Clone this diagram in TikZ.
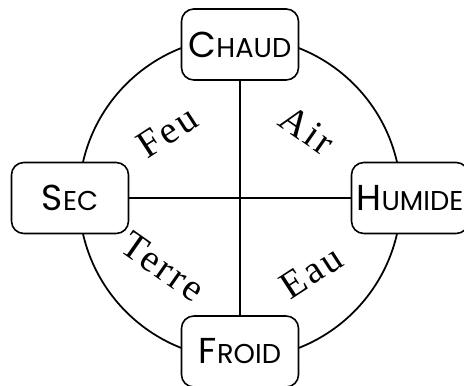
\documentclass[tikz,border=0pt]{standalone}
\usepackage{fontspec}
\newfontfamily\boxfont{Poppins}
\newfontfamily\elemfont{Liberation Serif}[LetterSpace=7]
\newcommand{\pcap}[2]{#1{\fontsize{15.5pt}{16pt}\selectfont #2}}

\begin{document}
\begin{tikzpicture}[
  qual/.style={draw, line width=0.9pt, rounded corners=7pt, fill=white,
               minimum width=2.34cm, minimum height=1.42cm, inner sep=0pt,
               font=\boxfont\fontsize{20.5pt}{22pt}\selectfont},
  elem/.style={font=\elemfont\fontsize{22pt}{26pt}\selectfont},
  trait/.style={line width=1pt}]
\useasboundingbox (-4.8,-3.76) rectangle (4.48,3.96);

\draw[trait] (0,0) circle (3.22);

\node[qual] (chaud)  at (0,3.07)   {\pcap{C}{HAUD}};
\node[qual] (froid)  at (0,-3.07)  {\pcap{F}{ROID}};
\node[qual] (sec)    at (-3.4,0)   {\pcap{S}{EC}};
\node[qual] (humide) at (3.4,0)    {\pcap{H}{UMIDE}};

\draw[trait] (chaud) -- (froid);
\draw[trait] (sec) -- (humide);

% les quatre elements
\node[elem, rotate=33]  (feu)   at (-1.46,1.32)  {Feu};
\node[elem, rotate=-35] (air)   at (1.34,1.36)   {Air};
\node[elem, rotate=-35] (terre) at (-1.54,-1.38) {Terre};
\node[elem, rotate=33]  (eau)   at (1.42,-1.48)  {Eau};
\end{tikzpicture}
\end{document}
